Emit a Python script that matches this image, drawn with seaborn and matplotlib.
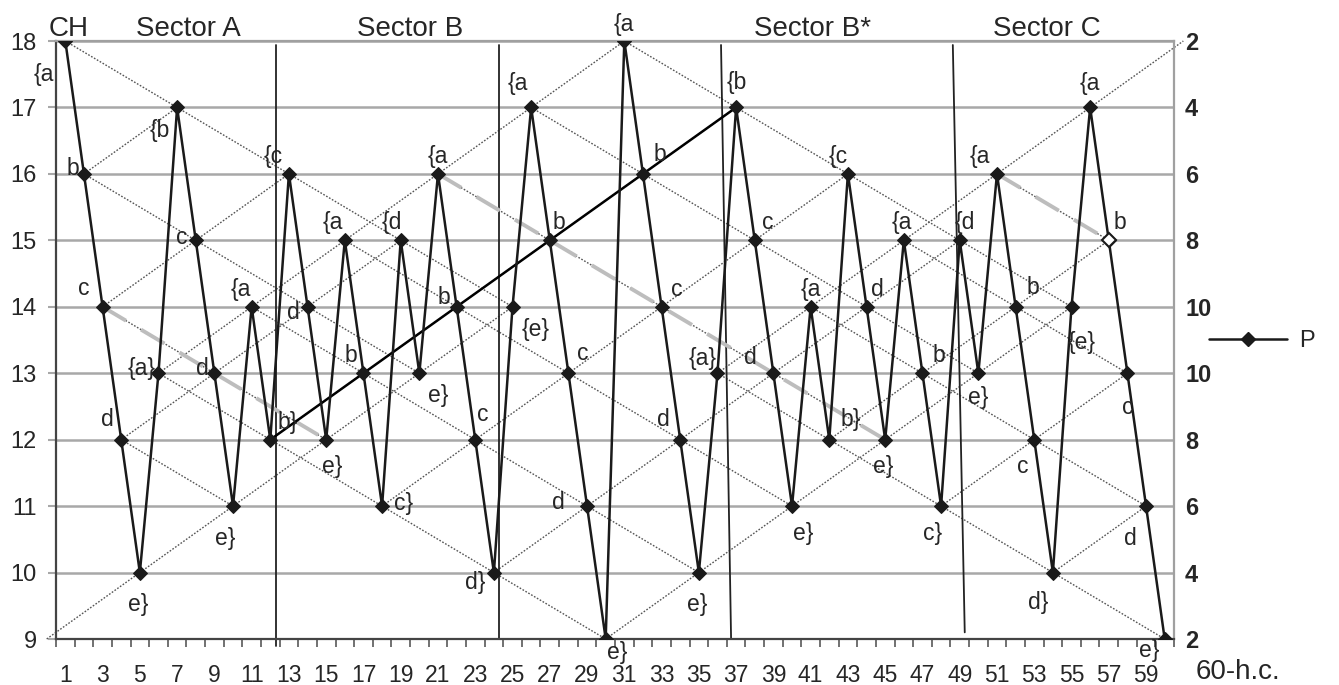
import matplotlib
matplotlib.use("Agg")
import matplotlib.pyplot as plt
import seaborn as sns
import pandas as pd

# 60-year cycle values (P)
years = list(range(1, 61))
p_values = [18, 16, 14, 12, 10, 13, 17, 15, 13, 11,
            14, 12, 16, 14, 12, 15, 13, 11, 15, 13,
            16, 14, 12, 10, 14, 17, 15, 13, 11, 9,
            18, 16, 14, 12, 10, 13, 17, 15, 13, 11,
            14, 12, 16, 14, 12, 15, 13, 11, 15, 13,
            16, 14, 12, 10, 14, 17, 15, 13, 11, 9]

point_labels = ["{a", "b", "c", "d", "e}", "{a}", "{b", "c", "d", "e}",
                "{a", "b}", "{c", "d", "e}", "{a", "b", "c}", "{d", "e}",
                "{a", "b", "c", "d}", "{e}", "{a", "b", "c", "d", "e}",
                "{a", "b", "c", "d", "e}", "{a}", "{b", "c", "d", "e}",
                "{a", "b}", "{c", "d", "e}", "{a", "b", "c}", "{d", "e}",
                "{a", "b", "c", "d}", "{e}", "{a", "b", "c", "d", "e}"]

# label offsets in pixels (dx right, dy down)
label_offsets = [(-22, 34), (-11, -5), (-19, -18), (-14, -20), (-2, 32),
                 (-17, -5), (-17, 23), (-14, -3), (-12, -5), (-8, 32),
                 (-11, -17), (17, -17), (-16, -17), (-14, 6), (6, 27),
                 (-12, -18), (-13, -18), (21, -3), (-9, -18), (19, 22),
                 (0, -17), (-13, -9), (8, -25), (-19, 10), (23, 23),
                 (-13, -24), (9, -18), (14, -20), (-29, -4), (12, 13),
                 (-1, -16), (17, -19), (15, -17), (-17, -20), (-2, 32),
                 (-15, -15), (1, -25), (13, -18), (-23, -16), (11, 27),
                 (0, -17), (21, -20), (-10, -17), (11, -17), (-2, 27),
                 (-2, -18), (16, -18), (-9, 27), (5, -18), (0, 24),
                 (-17, -17), (17, -19), (-12, 27), (-15, 30), (10, 36),
                 (0, -24), (11, -18), (0, 34), (-16, 32), (-15, 11)]

right_ticks = [18, 17, 16, 15, 14, 13, 12, 11, 10, 9]
right_labels = ["2", "4", "6", "8", "10", "10", "8", "6", "4", "2"]

sector_names = ["CH", "Sector A", "Sector B", "Sector B*", "Sector C"]
sector_x = [1.2, 7.6, 19.5, 41.1, 53.7]

# hand drawn sector dividers (top x, bottom x, bottom y)
divider_top = [12.32, 24.29, 36.19, 48.63]
divider_bottom = [12.32, 24.29, 36.73, 49.27]
divider_low = [8.9, 9.0, 9.0, 9.1]

gray_dashed = [(3, 15), (21, 45), (51, 57)]
black_line = (12, 37)

sns.set_style("white")
plt.rcParams['font.family'] = ['Liberation Sans', 'DejaVu Sans']

fig = plt.figure(figsize=(13.39, 6.85), dpi=100)
ax = fig.add_axes([56 / 1339, 1 - 639 / 685, (1174 - 56) / 1339, (639 - 41) / 685])

df = pd.DataFrame({"year": years, "P": p_values})

# horizontal grid
for yv in range(9, 19):
    ax.axhline(yv, color="#a8a8a8", lw=1.8, zorder=0)

# dotted lattice: same-stem (every 5) and same-branch (every 6) links,
# cycle wraps so one step beyond each end is included
ext_x = [0] + years + [61]
ext_y = [p_values[29]] + p_values + [p_values[30]]
for step, dy in [(5, 1), (6, -1)]:
    for i in range(len(ext_x) - step):
        if ext_y[i + step] - ext_y[i] == dy:
            ax.plot([ext_x[i], ext_x[i + step]], [ext_y[i], ext_y[i + step]],
                    color="#555555", lw=1.0, linestyle=(0, (1.2, 1.2)),
                    zorder=1, clip_on=False)

for xt, xb, yb in zip(divider_top, divider_bottom, divider_low):
    ax.plot([xt, xb], [17.94, yb], color="#222222", lw=1.3, zorder=2, clip_on=False)

for a, b in gray_dashed:
    ax.plot([a, b], [p_values[a - 1], p_values[b - 1]], color="#bdbdbd",
            lw=2.8, dashes=(7, 4.5), zorder=2)

a, b = black_line
ax.plot([a, b], [p_values[a - 1], p_values[b - 1]], color="black", lw=1.8, zorder=2.5)

sns.lineplot(data=df, x="year", y="P", ax=ax, color="#1a1a1a", lw=1.8,
             marker="D", markersize=7.5, markeredgecolor="#1a1a1a", label="P",
             zorder=3, legend=False)
ax.plot(57, p_values[56], marker="D", markersize=7.5, mfc="white",
        mec="#1a1a1a", mew=1.5, zorder=4)

for x, y, lab, (dx, dy) in zip(years, p_values, point_labels, label_offsets):
    ax.annotate(lab, (x, y), xytext=(dx, -dy), textcoords="offset pixels",
                ha="center", va="center", fontsize=16.5, zorder=5)

for name, sx in zip(sector_names, sector_x):
    ax.text(sx, 18.07, name, ha="center", va="baseline", fontsize=20, clip_on=False)

ax.set_xlim(0.5, 60.5)
ax.set_ylim(9, 18)
ax.set_xticks(range(1, 60, 2))
ax.set_xticks([v + 0.5 for v in range(0, 61)], minor=True)
ax.tick_params(axis="x", which="major", length=0, pad=18, labelsize=16.5)
ax.tick_params(axis="x", which="minor", length=6, width=1.3, color="#666666",
               direction="out", bottom=True)
ax.set_yticks(range(9, 19))
ax.tick_params(axis="y", length=6, width=1.5, color="#a8a8a8", pad=8, labelsize=17)
ax.set_xlabel("")
ax.set_ylabel("")
for side in ["left", "bottom"]:
    ax.spines[side].set_color("#444444")
    ax.spines[side].set_linewidth(1.6)
for side in ["top", "right"]:
    ax.spines[side].set_color("#a0a0a0")
    ax.spines[side].set_linewidth(1.6)

ax2 = ax.twinx()
ax2.set_ylim(9, 18)
ax2.set_yticks(right_ticks)
ax2.set_yticklabels(right_labels, fontweight="bold", fontsize=17)
ax2.tick_params(axis="y", length=0, pad=8)
for s in ax2.spines.values():
    s.set_visible(False)

handle = plt.Line2D([], [], color="#1a1a1a", lw=1.8, marker="D", markersize=7.5)
fig.legend([handle], ["P"], loc="center", bbox_to_anchor=(1262 / 1339, 1 - 341 / 685),
           frameon=False, fontsize=17, handlelength=3.3, handletextpad=0.5)

fig.text(1196 / 1339, 1 - 672 / 685, "60-h.c.", ha="left", va="center", fontsize=20)

fig.savefig("out.png", dpi=100)
